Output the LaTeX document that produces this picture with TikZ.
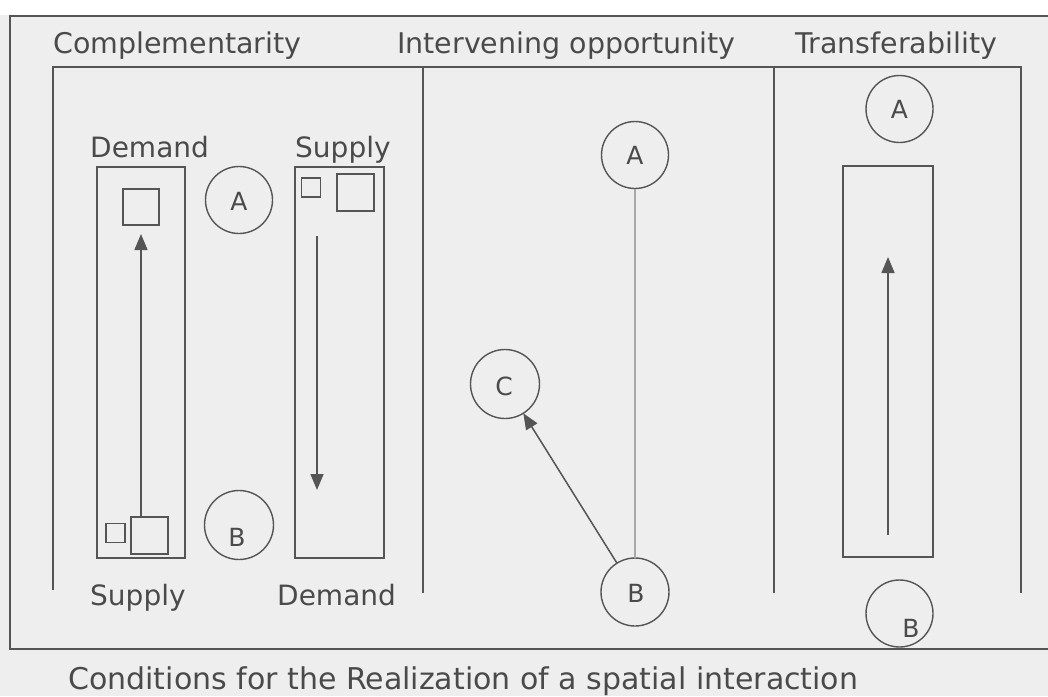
\documentclass[tikz,border=0pt]{standalone}
\usepackage{fontspec}
\setmainfont{DejaVu Sans}
\usetikzlibrary{arrows.meta}
\definecolor{bg}{HTML}{EEEEEE}
\definecolor{ink}{HTML}{555555}
\definecolor{txt}{HTML}{4A4A4A}
\definecolor{thinline}{HTML}{A8A8A8}
\begin{document}
\begin{tikzpicture}[x=1pt,y=-1pt,
  frame/.style={draw=ink, line width=1.6pt},
  box/.style={draw=ink, line width=1.5pt, inner sep=0pt, outer sep=0pt},
  place/.style={circle, draw=ink, line width=1.4pt, minimum size=#1, inner sep=0pt, outer sep=0pt},
  letter/.style={text=txt, font=\fontsize{25}{25}\selectfont, inner sep=0pt},
  head/.style={anchor=base west, text=txt, font=\fontsize{28.5}{30}\selectfont, inner sep=0pt},
  lbl/.style={anchor=base west, text=txt, font=\fontsize{28}{30}\selectfont, inner sep=0pt},
  flow/.style={draw=ink, line width=1.5pt, -{Triangle[length=16pt,width=13pt]}}]
% background
\fill[bg] (0,0) rectangle (1048,696);
\fill[white] (0,0) rectangle (1048,15);
\useasboundingbox (0,0) rectangle (1048,696);
% outer frame (three sides)
\draw[frame] (1048,16) -- (10,16) -- (10,649) -- (1048,649);
% inner frame
\draw[frame] (53,590) -- (53,67) -- (1021,67) -- (1021,593);
\draw[frame] (423,67) -- (423,593);
\draw[frame] (774,67) -- (774,593);
% titles
\node[head] (t1) at (53,53) {Complementarity};
\node[head] (t2) at (397,53) {Intervening opportunity};
\node[head] (t3) at (795,53) {Transferability};

% ---------- Complementarity ----------
\node[lbl] (dTop) at (90,157) {Demand};
\node[lbl] (sTop) at (295,157) {Supply};
\node[lbl] (sBot) at (90,605) {Supply};
\node[lbl] (dBot) at (277,605) {Demand};
\node[box, minimum width=88pt, minimum height=391pt] (rL) at (141,362.5) {};
\node[box, minimum width=89pt, minimum height=391pt] (rR) at (339.5,362.5) {};
% left column squares
\node[box, minimum size=36pt] (sqLt) at (141,207) {};
\node[box, minimum size=19pt] (sqLs) at (115.5,533) {};
\node[box, minimum size=37pt] (sqLb) at (149.5,535.5) {};
% right column squares
\node[box, minimum size=19pt] (sqRs) at (311,187.5) {};
\node[box, minimum size=37pt] (sqRb) at (355.5,192.5) {};
% places
\node[place=67pt] (cA1) at (239,200) {};
\node[letter] (lA1) at (239,201) {A};
\node[place=69pt] (cB1) at (239,525) {};
\node[letter] (lB1) at (237,537) {B};
% arrows
\coordinate (tipL) at (141,234);
\draw[flow] (sqLb.north -| tipL) -- (tipL);
\coordinate (startR) at (317,236);
\coordinate (tipR) at (317,490);
\draw[flow] (startR) -- (tipR);

% ---------- Intervening opportunity ----------
\node[place=67pt] (cA2) at (635,155) {};
\node[letter] (lA2) at (635,155) {A};
\node[place=68pt] (cB2) at (635,592) {};
\node[letter] (lB2) at (636,593) {B};
\node[place=69pt] (cC2) at (505,384) {};
\node[letter] (lC2) at (504,386) {C};
\draw[draw=thinline, line width=1.2pt] (cA2) -- (cB2);
\draw[flow] (cB2) -- (cC2);

% ---------- Transferability ----------
\node[place=67pt] (cA3) at (899.5,109) {};
\node[letter] (lA3) at (899.5,109) {A};
\node[box, minimum width=90pt, minimum height=391pt] (rT) at (888,361.5) {};
\node[place=67pt] (cB3) at (899.5,613.5) {};
\node[letter] (lB3) at (911,628) {B};
\coordinate (startT) at (888,535);
\coordinate (tipT) at (888,257);
\draw[flow] (startT) -- (tipT);

% caption
\node[anchor=base west, text=txt, font=\fontsize{30}{32}\selectfont, inner sep=0pt] (cap) at (68,689) {Conditions for the Realization of a spatial interaction};
\end{tikzpicture}
\end{document}
